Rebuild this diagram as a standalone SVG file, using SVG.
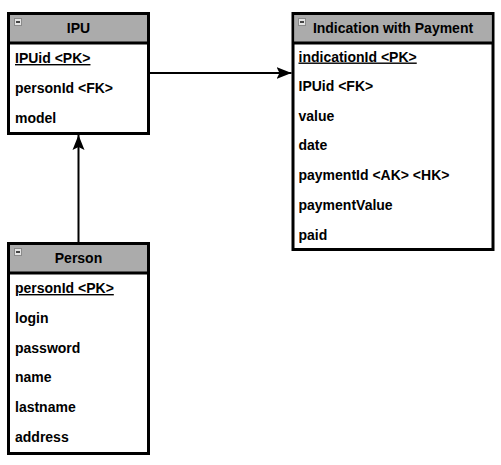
<svg xmlns="http://www.w3.org/2000/svg" width="501" height="465" viewBox="0 0 501 465">
<defs>
<style>
.box{fill:#ffffff;stroke:#000000;stroke-width:3}
.hdr{fill:#ababab;stroke:none}
.sep{stroke:#000000;stroke-width:3}
.title{font-family:"Liberation Sans",Arial,sans-serif;font-size:14px;font-weight:bold;fill:#000000;text-anchor:middle}
.row{font-family:"Liberation Sans",Arial,sans-serif;font-size:14px;font-weight:bold;fill:#000000}
.pk{text-decoration:underline}
.icon{fill:#e4e4e4;stroke:#8a8a8a;stroke-width:1}
.minus{stroke:#000000;stroke-width:1.4}
.edge{fill:none;stroke:#000000;stroke-width:2}
</style>
<marker id="arr" markerWidth="16" markerHeight="14" refX="15" refY="6" orient="auto" markerUnits="userSpaceOnUse" viewBox="0 0 16 12">
<path d="M15,6 L0,0 L3,6 L0,12 Z" fill="#000000"/>
</marker>
</defs>
<rect width="501" height="465" fill="#ffffff"/>
<g id="connectors">
<path class="edge" d="M148.5,73 L291.5,73" marker-end="url(#arr)"/>
<path class="edge" d="M78.5,243 L78.5,135" marker-end="url(#arr)"/>
</g>
<g id="IPU">
<rect class="box" x="8.5" y="13.5" width="140" height="120"/>
<rect class="hdr" x="10" y="15" width="137" height="28"/>
<line class="sep" x1="8.5" y1="43" x2="148.5" y2="43"/>
<rect class="icon" x="14.5" y="18.5" width="7" height="7"/>
<line class="minus" x1="16" y1="22" x2="20" y2="22"/>
<text class="title" x="78.5" y="33">IPU</text>
<text class="row pk" x="15" y="63">IPUid &lt;PK&gt;</text>
<text class="row" x="15" y="93">personId &lt;FK&gt;</text>
<text class="row" x="15" y="122.5">model</text>
</g>
<g id="IndicationWithPayment">
<rect class="box" x="293" y="13.5" width="200" height="236"/>
<rect class="hdr" x="294.5" y="15" width="197" height="28"/>
<line class="sep" x1="293" y1="43" x2="493" y2="43"/>
<rect class="icon" x="298.5" y="18.5" width="7" height="7"/>
<line class="minus" x1="300" y1="22" x2="304" y2="22"/>
<text class="title" x="393" y="33">Indication with Payment</text>
<text class="row pk" x="298.5" y="61.5">indicationId &lt;PK&gt;</text>
<text class="row" x="298.5" y="91">IPUid &lt;FK&gt;</text>
<text class="row" x="298.5" y="120.5">value</text>
<text class="row" x="298.5" y="150">date</text>
<text class="row" x="298.5" y="180">paymentId &lt;AK&gt; &lt;HK&gt;</text>
<text class="row" x="298.5" y="210">paymentValue</text>
<text class="row" x="298.5" y="240">paid</text>
</g>
<g id="Person">
<rect class="box" x="8.5" y="243.5" width="140" height="210"/>
<rect class="hdr" x="10" y="245" width="137" height="28"/>
<line class="sep" x1="8.5" y1="273" x2="148.5" y2="273"/>
<rect class="icon" x="14.5" y="248.5" width="7" height="7"/>
<line class="minus" x1="16" y1="252" x2="20" y2="252"/>
<text class="title" x="78.5" y="263">Person</text>
<text class="row pk" x="15" y="293">personId &lt;PK&gt;</text>
<text class="row" x="15" y="322.5">login</text>
<text class="row" x="15" y="352.5">password</text>
<text class="row" x="15" y="382">name</text>
<text class="row" x="15" y="412">lastname</text>
<text class="row" x="15" y="442">address</text>
</g>
</svg>
